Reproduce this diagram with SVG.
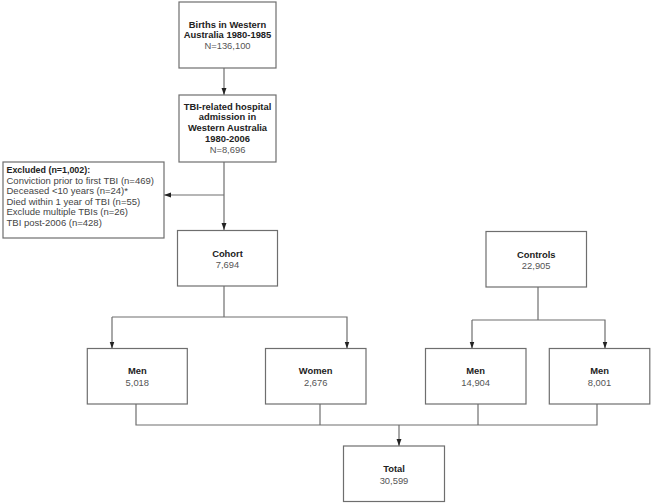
<svg xmlns="http://www.w3.org/2000/svg" width="651" height="503" viewBox="0 0 651 503">
<style>
rect.box{fill:#fff;stroke:#6e6e6e;stroke-width:1.2}
.c{fill:none;stroke:#6e6e6e;stroke-width:1.2}
text{font-family:"Liberation Sans",Arial,sans-serif;font-size:9.4px;text-anchor:middle}
.b{font-weight:bold;fill:#222}
.n{fill:#555}
.l{text-anchor:start;fill:#444;font-size:9.5px}
.h{text-anchor:start;font-size:8.9px}
</style>
<defs>
<marker id="ah" viewBox="0 0 8 8" refX="8" refY="4" markerWidth="7" markerHeight="7" markerUnits="userSpaceOnUse" orient="auto">
<path d="M0,1.2 L8,4 L0,6.8 Z" fill="#222"/>
</marker>
</defs>
<rect width="651" height="503" fill="#fff"/>
<g id="connectors">
<path class="c" d="M224,68 V95" marker-end="url(#ah)"/>
<path class="c" d="M224,162 V230" marker-end="url(#ah)"/>
<path class="c" d="M224,195 H164" marker-end="url(#ah)"/>
<path class="c" d="M224,286 V317"/>
<path class="c" d="M112,317 H347 V348.5" marker-end="url(#ah)"/>
<path class="c" d="M112,317 V348.5" marker-end="url(#ah)"/>
<path class="c" d="M538,287 V320"/>
<path class="c" d="M472,320 H605 V348.5" marker-end="url(#ah)"/>
<path class="c" d="M472,320 V348.5" marker-end="url(#ah)"/>
<path class="c" d="M136,404 V425 H597 V404"/>
<path class="c" d="M320,404 V425"/>
<path class="c" d="M478,404 V425"/>
<path class="c" d="M399,425 V446" marker-end="url(#ah)"/>
</g>
<g id="births">
<rect class="box" x="179" y="2" width="97" height="66"/>
<text class="b" x="227.5" y="27.5">Births in Western</text>
<text class="b" x="227.5" y="38">Australia 1980-1985</text>
<text class="n" x="227.5" y="48.5">N=136,100</text>
</g>
<g id="tbi">
<rect class="box" x="179" y="95" width="97" height="67"/>
<text class="b" x="227.5" y="109.5">TBI-related hospital</text>
<text class="b" x="227.5" y="120.3">admission in</text>
<text class="b" x="227.5" y="131.1">Western Australia</text>
<text class="b" x="227.5" y="141.9">1980-2006</text>
<text class="n" x="227.5" y="152.7">N=8,696</text>
</g>
<g id="excluded">
<rect class="box" x="3" y="162" width="161" height="76"/>
<text class="b h" x="6.5" y="172.6">Excluded (n=1,002):</text>
<text class="l" x="6.5" y="183.6">Conviction prior to first  TBI (n=469)</text>
<text class="l" x="6.5" y="194.2">Deceased &lt;10 years (n=24)*</text>
<text class="l" x="6.5" y="204.8">Died within 1 year of TBI (n=55)</text>
<text class="l" x="6.5" y="215.4">Exclude multiple TBIs (n=26)</text>
<text class="l" x="6.5" y="226">TBI post-2006 (n=428)</text>
</g>
<g id="cohort">
<rect class="box" x="177.5" y="230.5" width="100" height="55.5"/>
<text class="b" x="227.5" y="256.6">Cohort</text>
<text class="n" x="227.5" y="267.8">7,694</text>
</g>
<g id="controls">
<rect class="box" x="486" y="231.5" width="100.5" height="55.5"/>
<text class="b" x="536.2" y="257.6">Controls</text>
<text class="n" x="536.2" y="268.8">22,905</text>
</g>
<g id="men1">
<rect class="box" x="87.3" y="348.5" width="100" height="55.5"/>
<text class="b" x="137.3" y="374.3">Men</text>
<text class="n" x="137.3" y="385.8">5,018</text>
</g>
<g id="women">
<rect class="box" x="265.5" y="348.5" width="100.5" height="55.5"/>
<text class="b" x="315.7" y="374.3">Women</text>
<text class="n" x="315.7" y="385.8">2,676</text>
</g>
<g id="men2">
<rect class="box" x="425.5" y="348.5" width="100.5" height="55.5"/>
<text class="b" x="475.7" y="374.3">Men</text>
<text class="n" x="475.7" y="385.8">14,904</text>
</g>
<g id="men3">
<rect class="box" x="549.3" y="348.5" width="100.5" height="55.5"/>
<text class="b" x="599.5" y="374.3">Men</text>
<text class="n" x="599.5" y="385.8">8,001</text>
</g>
<g id="total">
<rect class="box" x="343.5" y="446" width="101" height="55.5"/>
<text class="b" x="394" y="472">Total</text>
<text class="n" x="394" y="483.7">30,599</text>
</g>
</svg>
